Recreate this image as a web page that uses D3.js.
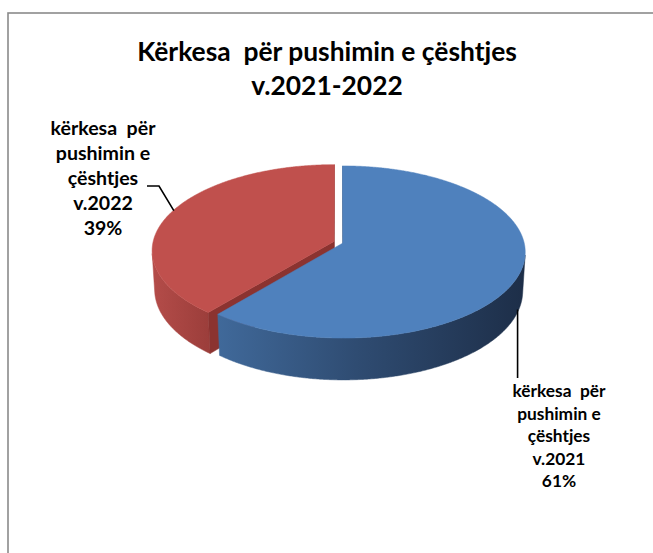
<!DOCTYPE html>
<html><head><meta charset="utf-8">
<script src="https://cdn.jsdelivr.net/npm/d3@7"></script>
<style>body{margin:0;background:#fff} svg{display:block}</style>
</head><body><svg id="c" width="653" height="553"></svg>
<script>
// ---- data ----
const categories = ["v.2021", "v.2022"];
const values = [61, 39];
const labelLines = [
  ["kërkesa  për", "pushimin e", "çështjes", "v.2021"],
  ["kërkesa  për", "pushimin e", "çështjes", "v.2022"]
];
const titleLines = ["Kërkesa  për pushimin e çështjes", "v.2021-2022"];

// ---- style / layout ----
const W = 653, H = 553;
const FONT = "Lato, 'Open Sans', 'DejaVu Sans', sans-serif";
const topColors = ["#4F81BD", "#C0504D"];
const cutColors = ["#35557f", "#8b3330"];
const wallStops = [
  [[0, "#40699a"], [0.45, "#2f4c72"], [1, "#1d2e48"]],
  [[0, "#b44c49"], [1, "#9c3e3b"]]
];
const labelLayout = [
  { x: 559, y: 397, lh: 22.5, width: 93 },
  { x: 103, y: 135, lh: 25, width: 105 }
];

const svg = d3.select("#c");
svg.append("rect").attr("width", W).attr("height", H).attr("fill", "#fff");
svg.append("rect").attr("x", 8).attr("y", 13).attr("width", W + 20).attr("height", H + 20)
  .attr("fill", "none").attr("stroke", "#8a8a8a").attr("stroke-width", 1.6);

// ---- perspective projection of the pie plane ----
const phi = 28 * Math.PI / 180, sinP = Math.sin(phi), cosP = Math.cos(phi);
const D = 8.43, k = 181, cx0 = 338.5, cy0 = 242.2, depth = 0.246, explode = 0.0265;
function P(X, Y, Z) {
  const u = Y * cosP - Z * sinP, w = Y * sinP + Z * cosP, s = D / (D - w);
  return [cx0 + k * X * s, cy0 - k * u * s];
}

const arcs = d3.pie().sort(null).value(d => d)(values);
const total = d3.sum(values);
const pct = d3.format(".0%");
const defs = svg.append("defs");
const line = d3.line();

// red (back) first, then blue (front)
const order = [1, 0];
const pieG = svg.append("g");

arcs.forEach((a, i) => {
  const mid = (a.startAngle + a.endAngle) / 2;
  a.ox = explode * Math.sin(mid);
  a.oz = -explode * Math.cos(mid);
});

function rim(a, ang, Y) { return P(a.ox + Math.sin(ang), Y, a.oz - Math.cos(ang)); }
function ctr(a, Y) { return P(a.ox, Y, a.oz); }
function angles(a0, a1) {
  const n = Math.max(2, Math.ceil((a1 - a0) / (0.4 * Math.PI / 180)));
  return d3.range(n + 1).map(j => a0 + (a1 - a0) * j / n);
}
function wallVisible(a, ang) {
  return Math.cos(ang) * (a.oz - D * cosP) > 1 + Math.sin(ang) * a.ox;
}
function cutVisible(a, ang, isStart) {
  const nx = isStart ? -Math.cos(ang) : Math.cos(ang);
  const nz = isStart ? -Math.sin(ang) : Math.sin(ang);
  return nx * (-a.ox) + nz * (D * cosP - a.oz) > 0;
}

order.forEach(i => {
  const a = arcs[i];
  const g = pieG.append("g");
  // outer wall
  const vis = angles(a.startAngle, a.endAngle).filter(t => wallVisible(a, t));
  if (vis.length > 1) {
    const topPts = vis.map(t => rim(a, t, 0));
    const botPts = vis.slice().reverse().map(t => rim(a, t, -depth));
    const xs = topPts.map(p => p[0]);
    const gid = "wall" + i;
    const grad = defs.append("linearGradient").attr("id", gid)
      .attr("gradientUnits", "userSpaceOnUse")
      .attr("x1", d3.min(xs)).attr("x2", d3.max(xs)).attr("y1", 0).attr("y2", 0);
    wallStops[i].forEach(s => grad.append("stop").attr("offset", s[0]).attr("stop-color", s[1]));
    g.append("path").attr("d", line(topPts.concat(botPts)) + "Z")
      .attr("fill", `url(#${gid})`).attr("stroke", `url(#${gid})`).attr("stroke-width", 0.5);
  }
  // cut faces
  [[a.startAngle, true], [a.endAngle, false]].forEach(([ang, isStart]) => {
    if (!cutVisible(a, ang, isStart)) return;
    const pts = [ctr(a, 0), rim(a, ang, 0), rim(a, ang, -depth), ctr(a, -depth)];
    g.append("path").attr("d", line(pts) + "Z").attr("fill", cutColors[i])
      .attr("stroke", cutColors[i]).attr("stroke-width", 0.5);
  });
  // top face
  const topPts = [ctr(a, 0)].concat(angles(a.startAngle, a.endAngle).map(t => rim(a, t, 0)));
  g.append("path").attr("d", line(topPts) + "Z").attr("fill", topColors[i])
    .attr("stroke", topColors[i]).attr("stroke-width", 0.5);
});

// ---- title ----
function fitSize(textSel, target) {
  const w = textSel.node().getComputedTextLength();
  const s = parseFloat(textSel.attr("font-size"));
  return s * target / w;
}
const t1 = svg.append("text").attr("x", 327).attr("y", 61).attr("text-anchor", "middle")
  .attr("font-family", FONT).attr("font-weight", 700).attr("font-size", 26)
  .style("white-space", "pre").attr("fill", "#000").text(titleLines[0]);
const tSize = fitSize(t1, 380);
t1.attr("font-size", tSize);
svg.append("text").attr("x", 327).attr("y", 95).attr("text-anchor", "middle")
  .attr("font-family", FONT).attr("font-weight", 700).attr("font-size", tSize)
  .attr("fill", "#000").text(titleLines[1]);

// ---- data labels ----
arcs.forEach((a, i) => {
  const L = labelLayout[i];
  const lines = labelLines[i].concat([pct(values[i] / total)]);
  const g = svg.append("g");
  const first = g.append("text").attr("x", L.x).attr("y", L.y).attr("text-anchor", "middle")
    .attr("font-family", FONT).attr("font-weight", 700).attr("font-size", 16)
    .style("white-space", "pre").text(lines[0]);
  const fs = fitSize(first, L.width);
  first.remove();
  g.selectAll("text").data(lines).join("text")
    .attr("x", L.x).attr("y", (d, j) => L.y + j * L.lh)
    .attr("text-anchor", "middle").attr("font-family", FONT).attr("font-weight", 700)
    .attr("font-size", fs).style("white-space", "pre").attr("fill", "#000").text(d => d);
});

// ---- leader lines ----
const midB = (arcs[0].startAngle + arcs[0].endAngle) / 2;
const pB = rim(arcs[0], midB, -depth * 0.92);
svg.append("path").attr("d", line([[pB[0], pB[1]], [pB[0], 378]]))
  .attr("fill", "none").attr("stroke", "#000").attr("stroke-width", 1.6);
const midR = (arcs[1].startAngle + arcs[1].endAngle) / 2;
const pR = rim(arcs[1], midR, 0);
svg.append("path").attr("d", line([[pR[0] + 4, pR[1] - 3], [159, 186], [147, 186]]))
  .attr("fill", "none").attr("stroke", "#000").attr("stroke-width", 1.6);
</script></body></html>
